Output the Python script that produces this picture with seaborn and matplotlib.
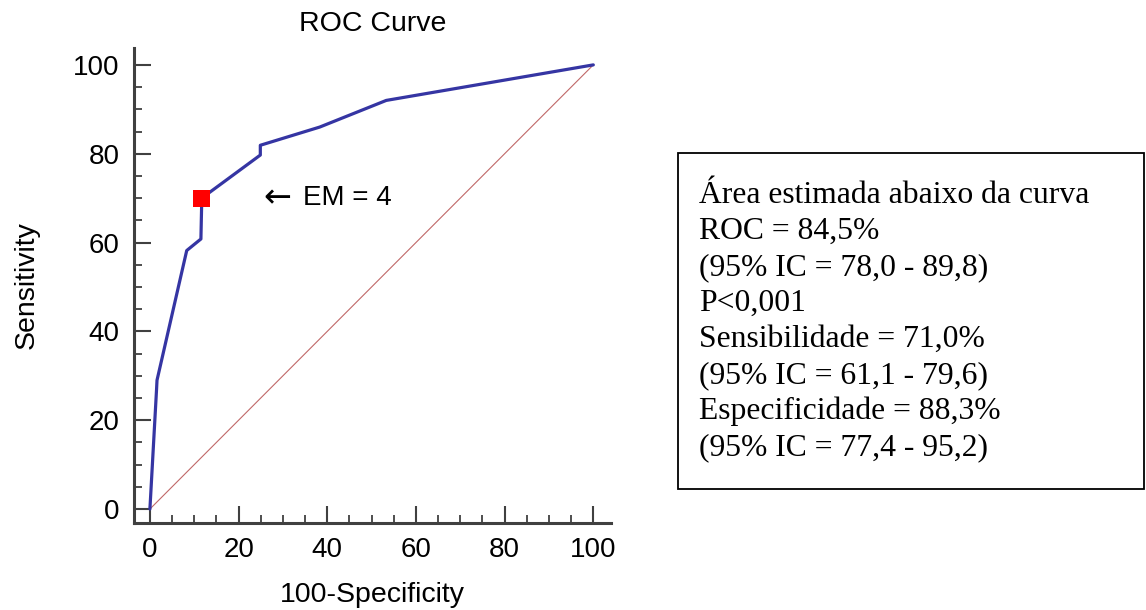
import seaborn as sns
import matplotlib.pyplot as plt
import pandas as pd
from matplotlib.patches import Rectangle
from matplotlib.ticker import MultipleLocator

# ROC points
fpr = [0, 1.5, 1.6, 8.3, 11.5, 11.7, 24.9, 24.9, 38.3, 53.3, 100]
sens = [0, 27.0, 29.0, 58.2, 60.8, 70.0, 79.7, 81.9, 86.0, 92.0, 100]
cut_x = [11.7]
cut_y = [70.0]
diag = [0, 100]

info_lines = [
    "Área estimada abaixo da curva",
    "ROC = 84,5%",
    "(95% IC = 78,0 - 89,8)",
    "P<0,001",
    "Sensibilidade = 71,0%",
    "(95% IC = 61,1 - 79,6)",
    "Especificidade = 88,3%",
    "(95% IC = 77,4 - 95,2)",
]

sns.set_style("white")
plt.rcParams['font.family'] = ['Liberation Sans', 'DejaVu Sans']
plt.rcParams['text.color'] = 'black'
plt.rcParams['axes.labelcolor'] = 'black'
plt.rcParams['xtick.color'] = '#404040'
plt.rcParams['ytick.color'] = '#404040'

fig = plt.figure(figsize=(11.46, 6.10), dpi=100)
ax = fig.add_axes([0.1165, 0.1426, 0.4167, 0.7787])

data = pd.DataFrame({'fpr': fpr, 'sens': sens})
ax.plot(diag, diag, color='#c06868', lw=0.8)
sns.lineplot(x='fpr', y='sens', data=data, sort=False, estimator=None,
             color='#3535a3', lw=2.3, ax=ax)
sns.scatterplot(x=cut_x, y=cut_y, marker='s', s=150, color='red',
                edgecolor='none', ax=ax, zorder=5)

ax.set_xlim(-3.7, 104)
ax.set_ylim(-3.15, 103.8)
ax.xaxis.set_major_locator(MultipleLocator(20))
ax.yaxis.set_major_locator(MultipleLocator(20))
ax.xaxis.set_minor_locator(MultipleLocator(5))
ax.yaxis.set_minor_locator(MultipleLocator(5))

for s in ['top', 'right']:
    ax.spines[s].set_visible(False)
for s in ['left', 'bottom']:
    ax.spines[s].set_linewidth(2.2)
    ax.spines[s].set_color('#404040')

ax.tick_params(which='both', bottom=True, left=True, top=False, right=False)
ax.tick_params(which='major', direction='in', length=12, width=1.5,
               color='#404040', labelcolor='black', labelsize=20, pad=10)
ax.tick_params(which='minor', direction='in', length=6, width=1.3,
               color='#404040')

ax.set_title('ROC Curve', fontsize=20.5, pad=12, color='black')
ax.set_xlabel('100-Specificity', fontsize=20.5, labelpad=14)
ax.set_ylabel('Sensitivity', fontsize=20.5, labelpad=24)

ax.text(25.5, 70, '\u2190', fontsize=24, va='center', ha='left',
        family=['DejaVu Sans'])
ax.text(34.5, 70, 'EM = 4', fontsize=20, va='center', ha='left')

# info box on the right
W, H = 1146, 610
fig.patches.append(Rectangle((678 / W, 1 - 489 / H), (1144 - 678) / W, (489 - 153) / H,
                             transform=fig.transFigure, fill=False,
                             edgecolor='black', lw=1.3))
for i, line in enumerate(info_lines):
    fig.text(699 / W, 1 - (203 + 36 * i) / H, line, fontsize=22.8,
             family=['Liberation Serif', 'DejaVu Serif'], va='baseline')

plt.savefig('out.png', dpi=100)
